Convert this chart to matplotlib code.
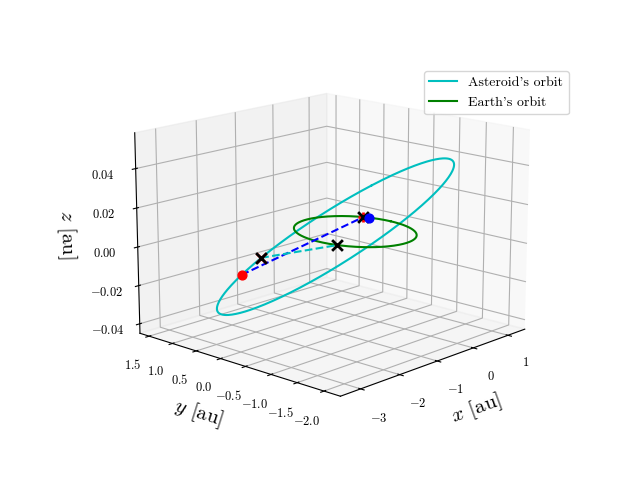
import numpy as np
import matplotlib.pyplot as plt

plt.rcParams["font.family"] = "serif"
plt.rcParams["font.serif"] = ["cmr10"]
plt.rcParams["mathtext.fontset"] = "cm"
plt.rcParams["axes.formatter.use_mathtext"] = True

# asteroid orbit: ellipse elements (au) and tilt of its plane
semi_major = 2.2
eccentricity = 0.55
peri_angle_deg = 20.0
tilt_x = 0.0117   # dz/dx of the orbital plane
tilt_y = -0.0171  # dz/dy of the orbital plane
z_offset = 0.0125

earth_radius = 1.0

# eccentric anomalies (rad) of the marked asteroid positions
asteroid_dot_anomaly = 1.3
asteroid_x_anomaly = 1.05
# Earth angles (deg) of the marked Earth positions
earth_x_angles = [-160.0, 28.0]
earth_dot_angle = 22.0


def asteroid_pos(t):
    b = semi_major * np.sqrt(1 - eccentricity**2)
    c = semi_major * eccentricity
    px = -c + semi_major * np.cos(t)
    py = b * np.sin(t)
    w = np.deg2rad(peri_angle_deg)
    x = px * np.cos(w) - py * np.sin(w)
    y = px * np.sin(w) + py * np.cos(w)
    return x, y, tilt_x * x + tilt_y * y + z_offset


def earth_pos(deg):
    a = np.deg2rad(deg)
    return earth_radius * np.cos(a), earth_radius * np.sin(a), 0.0


t = np.linspace(0, 2 * np.pi, 400)
ox, oy, oz = asteroid_pos(t)

fig = plt.figure(figsize=(6.4, 4.8))
ax = fig.add_subplot(projection="3d")
ax.set_position([0.125, 0.12, 0.775, 0.77])
ax.plot(ox, oy, oz, color="c", label="Asteroid's orbit")
ax.plot(earth_radius * np.cos(t), earth_radius * np.sin(t), 0 * t, color="g", label="Earth's orbit")

a_dot = asteroid_pos(asteroid_dot_anomaly)
a_x = asteroid_pos(asteroid_x_anomaly)
e_mid = earth_pos(earth_x_angles[0])
e_right = earth_pos(earth_x_angles[1])
e_dot = earth_pos(earth_dot_angle)

ax.plot([a_dot[0], e_right[0]], [a_dot[1], e_right[1]], [a_dot[2], e_right[2]], "b--")
ax.plot([a_x[0], e_mid[0]], [a_x[1], e_mid[1]], [a_x[2], e_mid[2]], "c--")
ax.scatter(*a_dot, color="r", s=40, depthshade=False)
ax.scatter(*e_dot, color="b", s=40, depthshade=False)
ax.scatter(*e_right, color="r", marker="+", s=60, linewidths=2, depthshade=False)
ax.scatter(*a_x, color="r", marker="x", s=50, linewidths=2, depthshade=False)
for p in (a_x, e_mid, e_right):
    ax.scatter(*p, color="k", marker="x", s=60, linewidths=2, depthshade=False)

ax.set_xlabel(r"$x$ [au]", fontsize=15)
ax.set_ylabel(r"$y$ [au]", fontsize=15)
ax.set_zlabel(r"$z$ [au]", fontsize=15)
ax.set_xlim(-3.5, 1.5)
ax.set_ylim(-2.3, 1.7)
ax.set_zlim(-0.045, 0.058)
ax.set_xticks([-3, -2, -1, 0, 1])
ax.set_yticks([1.5, 1.0, 0.5, 0.0, -0.5, -1.0, -1.5, -2.0])
ax.set_zticks([-0.04, -0.02, 0.0, 0.02, 0.04])
ax.tick_params(labelsize=9)
ax.view_init(elev=15, azim=-137)
ax.set_box_aspect(None, zoom=1.16)
ax.legend(loc="upper right", bbox_to_anchor=(1.17, 0.97), fontsize=10)
fig.savefig("out.png", dpi=100)
